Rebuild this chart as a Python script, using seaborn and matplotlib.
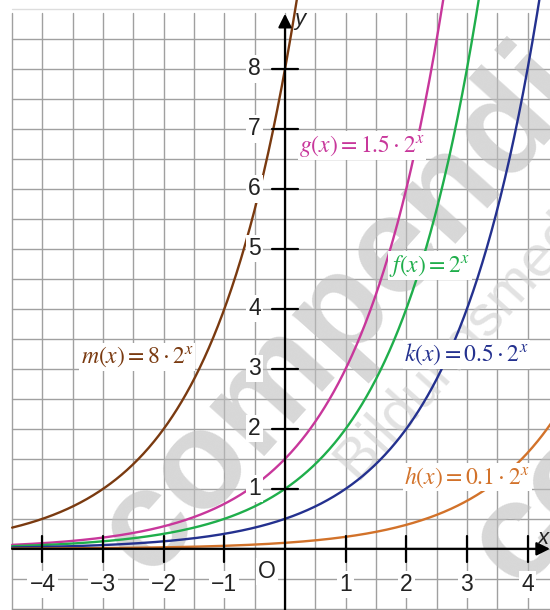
import matplotlib
matplotlib.use("Agg")
import matplotlib.pyplot as plt
import seaborn as sns
import numpy as np
import pandas as pd

# functions a * 2^x shown in the chart
names = ["m", "g", "f", "k", "h"]
coeffs = [8, 1.5, 1, 0.5, 0.1]
labels = [r"$m(x) = 8 \cdot 2^x$", r"$g(x) = 1.5 \cdot 2^x$", r"$f(x) = 2^x$",
          r"$k(x) = 0.5 \cdot 2^x$", r"$h(x) = 0.1 \cdot 2^x$"]
label_pos = [(-3.37, 3.2), (0.23, 6.72), (1.72, 4.72), (1.97, 3.24), (1.97, 1.2)]
colors = ["#7a3a10", "#c8379b", "#1fae4b", "#24318f", "#d2722a"]

x_ticks = [-4, -3, -2, -1, 1, 2, 3, 4]
y_ticks = [1, 2, 3, 4, 5, 6, 7, 8]

sns.set_style("white")
plt.rcParams["mathtext.fontset"] = "stix"
plt.rcParams["font.family"] = ["Liberation Sans", "DejaVu Sans"]

x = np.linspace(-4.5, 4.5, 600)
df = pd.concat([pd.DataFrame({"x": x, "y": c * 2.0 ** x, "fn": n})
                for n, c in zip(names, coeffs)])

fig = plt.figure(figsize=(5.5, 6.1), dpi=100)
ax = fig.add_axes([0, 0, 1, 1])
ax.axis("off")

# grid every 0.5
grid_c = "#a0a0a0"
for gx in np.arange(-4.5, 4.51, 0.5):
    ax.plot([gx, gx], [-1.1, 8.93], color=grid_c, lw=1.0, zorder=1)
for gy in np.arange(-1.0, 8.51, 0.5):
    ax.plot([-4.5, 4.5], [gy, gy], color=grid_c, lw=1.0, zorder=1)
ax.plot([-4.5, 4.5], [9.0, 9.0], color="#dddddd", lw=1.0, zorder=1)

# watermark
wm = dict(rotation=48, rotation_mode="anchor", color="#bdbdbd", alpha=0.6, zorder=1.5)
ax.text(1.4, 4.5, "compendio", ha="center", va="center", fontsize=100,
        fontweight="bold", **wm)
ax.text(1.0, 1.3, "Bildungsmedien", ha="left", va="center", fontsize=42,
        rotation=48, rotation_mode="anchor", color="#cfcfcf", alpha=0.6, zorder=1.5)
ax.text(7.5, 4.3, "compendio", ha="center", va="center", fontsize=100,
        fontweight="bold", **wm)

sns.lineplot(data=df, x="x", y="y", hue="fn", palette=dict(zip(names, colors)),
             lw=1.7, legend=False, ax=ax, zorder=3, sort=False)
ax.set_xlim(-4.70, 4.37)
ax.set_ylim(-1.02, 9.15)

# axes with arrows
ax.annotate("", xy=(4.37, 0), xytext=(-4.5, 0),
            arrowprops=dict(arrowstyle="-|>", lw=1.6, color="black",
                            mutation_scale=20, shrinkA=0, shrinkB=0), zorder=4)
ax.annotate("", xy=(0, 8.92), xytext=(0, -1.1),
            arrowprops=dict(arrowstyle="-|>", lw=1.6, color="black",
                            mutation_scale=20, shrinkA=0, shrinkB=0), zorder=4)

box = dict(facecolor="white", edgecolor="none", pad=1.5)
for t in x_ticks:
    ax.plot([t, t], [-0.22, 0.22], color="black", lw=1.6, zorder=4)
    ax.text(t, -0.6, f"{t}".replace("-", "\u2212"), ha="center", va="center",
            fontsize=16.5, color="#222222", bbox=box, zorder=4)
for t in y_ticks:
    ax.plot([-0.22, 0.22], [t, t], color="black", lw=1.6, zorder=4)
    ax.text(-0.5, t, f"{t}", ha="center", va="center",
            fontsize=16.5, color="#222222", bbox=box, zorder=4)
ax.text(-0.3, -0.38, "O", ha="center", va="center", fontsize=16.5,
        color="#222222", bbox=box, zorder=4)
ax.text(4.26, 0.18, "x", ha="center", va="center", fontsize=16,
        style="italic", color="#222222", zorder=4)
ax.text(0.25, 8.82, "y", ha="center", va="center", fontsize=16,
        style="italic", color="#222222", zorder=4)

for lab, (lx, ly), c in zip(labels, label_pos, colors):
    ax.text(lx, ly, lab, ha="left", va="center", fontsize=17, color=c,
            bbox=dict(facecolor="white", edgecolor="none", pad=1.0), zorder=5)

fig.savefig("out.png", dpi=100)
